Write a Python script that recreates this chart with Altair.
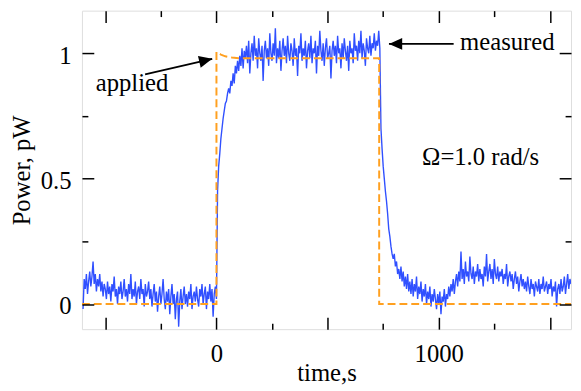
import altair as alt
import pandas as pd

# ---------------- data ----------------
STEP = 5  # sampling step of the measured trace, s

base_start = -600
base_vals = [
    -0.02, 0.10, 0.06, 0.12, 0.04, 0.09, 0.13, 0.07, 0.11, 0.17, 0.08, 0.12, 0.05, 0.10, 0.07, 0.12, 0.05, 0.09, 0.03, 0.08,
    0.06, 0.02, 0.09, 0.04, 0.07, 0.01, 0.08, 0.05, 0.11, 0.03, 0.06, 0.00, 0.07, 0.04, 0.09, 0.02, 0.05, 0.10, 0.03, 0.06,
    0.01, 0.08, 0.04, 0.12, 0.02, 0.06, 0.03, 0.09, 0.00, 0.05, 0.07, 0.02, 0.10, 0.04, 0.06, -0.01, 0.08, 0.03, 0.05, 0.09,
    0.02, 0.06, -0.01, 0.04, 0.08, 0.01, 0.05, -0.03, 0.03, 0.07, 0.00, 0.04, 0.10, 0.02, -0.02, 0.05, 0.01, 0.06, -0.04, 0.03,
    0.08, 0.00, 0.04, -0.06, 0.02, 0.05, -0.09, 0.01, 0.06, -0.02, 0.03, 0.07, 0.00, 0.04, -0.01, 0.05, 0.02, 0.08, -0.02, 0.03,
    0.05, 0.01, 0.07, 0.02, -0.01, 0.06, 0.03, 0.08, 0.00, 0.04, 0.07, -0.02, 0.05, 0.02, 0.08, 0.01, 0.06, -0.05, 0.04, 0.07,
]
rise_start = 0
rise_vals = [
    0.02, 0.45, 0.55, 0.60, 0.66, 0.70, 0.74, 0.77, 0.80, 0.81, 0.84, 0.86, 0.84, 0.89, 0.87, 0.92, 0.88, 0.95, 0.92, 0.97,
    0.93, 0.99, 0.95, 1.02, 0.94, 1.01,
]
plateau_start = 130
plateau_vals = [
    0.98, 1.03, 0.96, 1.05, 0.92, 1.00, 1.04, 0.97, 1.07, 0.99, 1.02, 0.94, 1.06, 1.00, 0.97, 1.03, 0.89, 1.01, 1.05, 0.98,
    1.02, 0.95, 1.08, 1.00, 0.97, 1.04, 0.99, 1.10, 0.96, 1.02, 0.98, 1.05, 0.93, 1.01, 1.06, 0.99, 1.03, 0.96, 1.07, 1.00,
    0.97, 1.04, 1.01, 0.95, 1.06, 0.99, 1.02, 0.91, 1.03, 1.00, 1.08, 0.97, 1.02, 0.99, 1.05, 0.94, 1.01, 1.04, 0.98, 1.07,
    0.96, 1.02, 1.00, 1.05, 0.92, 1.03, 0.99, 1.09, 1.01, 0.97, 1.04, 0.95, 1.02, 1.06, 0.98, 1.00, 1.03, 0.90, 1.01, 1.05,
    0.99, 1.03, 0.96, 1.07, 1.00, 1.02, 0.94, 1.04, 0.98, 1.06, 1.01, 0.97, 1.03, 0.93, 1.05, 1.00, 1.02, 0.96, 1.08, 1.01,
    1.03, 0.97, 1.05, 1.00, 1.09, 0.98, 1.04, 1.01, 0.95, 1.06, 1.02, 1.00, 1.07, 0.99, 1.04, 1.02, 1.08, 1.01, 1.05, 1.03,
    1.09,
]
fall_start = 735
fall_vals = [
    1.02, 0.70, 0.62, 0.55, 0.50, 0.45, 0.41, 0.36, 0.30, 0.27, 0.23, 0.20, 0.18, 0.20, 0.15, 0.17, 0.12, 0.14, 0.10, 0.15,
    0.09, 0.13, 0.07, 0.11, 0.06, 0.12, 0.05, 0.09, 0.04, 0.10, 0.03, 0.08, 0.05, 0.11, 0.02, 0.07, 0.04, 0.09, 0.01, 0.06,
    0.03, 0.08, 0.00, 0.05, 0.02, 0.07, -0.01, 0.04, 0.01, 0.06,
]
tail_start = 985
tail_vals = [
    0.02, -0.02, 0.04, 0.00, 0.05, -0.04, 0.03, 0.01, 0.06, -0.01, 0.04, 0.02, 0.07, 0.03, 0.08, 0.05, 0.10, 0.04, 0.09, 0.12,
    0.07, 0.13, 0.09, 0.21, 0.10, 0.14, 0.08, 0.17, 0.11, 0.13, 0.09, 0.19, 0.12, 0.10, 0.15, 0.08, 0.13, 0.11, 0.16, 0.09,
    0.14, 0.10, 0.12, 0.07, 0.15, 0.11, 0.20, 0.09, 0.13, 0.16, 0.10, 0.14, 0.08, 0.18, 0.12, 0.10, 0.15, 0.09, 0.13, 0.11,
    0.14, 0.08, 0.12, 0.10, 0.16, 0.07, 0.11, 0.13, 0.09, 0.12, 0.06, 0.10, 0.13, 0.08, 0.11, 0.05, 0.09, 0.12, 0.07, 0.10,
    0.06, 0.09, 0.05, 0.11, 0.07, 0.04, 0.10, 0.06, 0.08, 0.03, 0.09, 0.07, 0.05, 0.10, 0.04, 0.08, 0.06, 0.11, 0.05, 0.07,
    0.09, 0.04, 0.08, 0.06, 0.10, 0.03, 0.07, 0.05, 0.09, -0.01, 0.06, 0.08, 0.04, 0.10, 0.05, 0.07, 0.11, 0.04, 0.08, 0.12,
    0.06, 0.10, 0.08,
]

applied_t = [-605, 0, 0, 20, 40, 70, 100, 732, 732, 1595]
applied_p = [0.0, 0.0, 1.005, 0.995, 0.988, 0.983, 0.98, 0.98, 0.0, 0.0]

label_x = [-543, 1096, 925]
label_y = [0.851, 1.013, 0.553]
label_text = ["applied", "measured", "\u03a9=1.0 rad/s"]

arrow_x1 = [-321, 1067]
arrow_y1 = [0.916, 1.0375]
arrow_x2 = [-19, 776]
arrow_y2 = [0.978, 1.0375]
arrow_angle = [346.8, 180]

x_ticks_major = [-500, 0, 500, 1000, 1500]
x_ticks_minor = [-250, 250, 750, 1250]
y_ticks_major = [0, 0.5, 1]
y_ticks_minor = [0.25, 0.75]

# ---------------- tables ----------------
rows = []
for start, vals in [(base_start, base_vals), (rise_start, rise_vals), (plateau_start, plateau_vals),
                    (fall_start, fall_vals), (tail_start, tail_vals)]:
    for i, v in enumerate(vals):
        rows.append({"t": start + STEP * i, "p": v})
measured = pd.DataFrame(rows)
measured["i"] = range(len(measured))

applied = pd.DataFrame({"t": applied_t, "p": applied_p, "i": range(len(applied_t))})
labels = pd.DataFrame({"t": label_x, "p": label_y, "text": label_text})
arrows = pd.DataFrame({"t": arrow_x1, "p": arrow_y1, "t2": arrow_x2, "p2": arrow_y2, "ang": arrow_angle})

FONT = "Liberation Serif"
FS = 25
xscale = alt.Scale(domain=[-605, 1595], nice=False, zero=False)
yscale = alt.Scale(domain=[-0.1, 1.17], nice=False, zero=False)

common = dict(domain=False, grid=False, tickColor="black", tickWidth=1.5, zindex=1,
              labelFont=FONT, labelFontSize=FS, labelColor="black",
              titleFont=FONT, titleFontSize=FS, titleFontWeight="normal", titleColor="black")


def ax(orient, values, size, labels=False, **kw):
    return alt.Axis(orient=orient, values=values, tickSize=size, offset=-size,
                    labels=labels, **{**common, **kw})


x_bottom_major = ax("bottom", x_ticks_major, 12, labels=True, format="d",
                    labelExpr="(datum.value == 0 || datum.value == 1000) ? datum.label : ''",
                    labelPadding=13, labelOverlap=False, labelFlush=False,
                    title="time,s", titleBaseline="alphabetic", titleY=64)
y_left_major = ax("left", y_ticks_major, 12, labels=True, format="~g", labelPadding=11,
                  labelOffset=2, labelFlush=False, labelOverlap=False,
                  title="Power, pW", titleBaseline="alphabetic", titleX=-65)
x_bottom_minor = ax("bottom", x_ticks_minor, 6, title=None)
y_left_minor = ax("left", y_ticks_minor, 6, title=None)
x_top_major = ax("top", x_ticks_major, 12, title=None)
y_right_major = ax("right", y_ticks_major, 12, title=None)
x_top_minor = ax("top", x_ticks_minor, 6, title=None)
y_right_minor = ax("right", y_ticks_minor, 6, title=None)

measured_line = alt.Chart(measured).mark_line(color="#3050ff", strokeWidth=1.4, clip=True).encode(
    x=alt.X("t:Q", scale=xscale, axis=x_bottom_major),
    y=alt.Y("p:Q", scale=yscale, axis=y_left_major),
    order="i:Q",
)

applied_line = alt.Chart(applied).mark_line(color="#ffa020", strokeWidth=2, strokeDash=[8, 4], clip=True).encode(
    x=alt.X("t:Q", scale=xscale, axis=x_bottom_minor),
    y=alt.Y("p:Q", scale=yscale, axis=y_left_minor),
    order="i:Q",
)

text_layer = alt.Chart(labels).mark_text(align="left", baseline="alphabetic", font=FONT,
                                         fontSize=FS, color="black").encode(
    x=alt.X("t:Q", scale=xscale, axis=x_top_major),
    y=alt.Y("p:Q", scale=yscale, axis=y_right_major),
    text="text:N",
)

arrow_lines = alt.Chart(arrows).mark_rule(color="black", strokeWidth=1.8).encode(
    x=alt.X("t:Q", scale=xscale, axis=x_top_minor),
    y=alt.Y("p:Q", scale=yscale, axis=y_right_minor),
    x2="t2:Q",
    y2="p2:Q",
)

arrow_heads = alt.Chart(arrows).mark_point(shape="M0,0L-2,-0.9L-2,0.9Z", filled=True, color="black",
                                           opacity=1, size=180, strokeWidth=0).encode(
    x=alt.X("t2:Q", scale=xscale, axis=None),
    y=alt.Y("p2:Q", scale=yscale, axis=None),
    angle=alt.Angle("ang:Q", scale=None),
)

chart = alt.layer(measured_line, applied_line, text_layer, arrow_lines, arrow_heads).resolve_axis(
    x="independent", y="independent"
).properties(
    width=496,
    height=323,
    autosize=alt.AutoSizeParams(type="none"),
    padding={"left": 75, "top": 0, "right": 2, "bottom": 58},
).configure_view(
    stroke="black", strokeWidth=1.5
).configure(background="white")

chart.save("out.html", embed_options={"renderer": "svg", "actions": False})
